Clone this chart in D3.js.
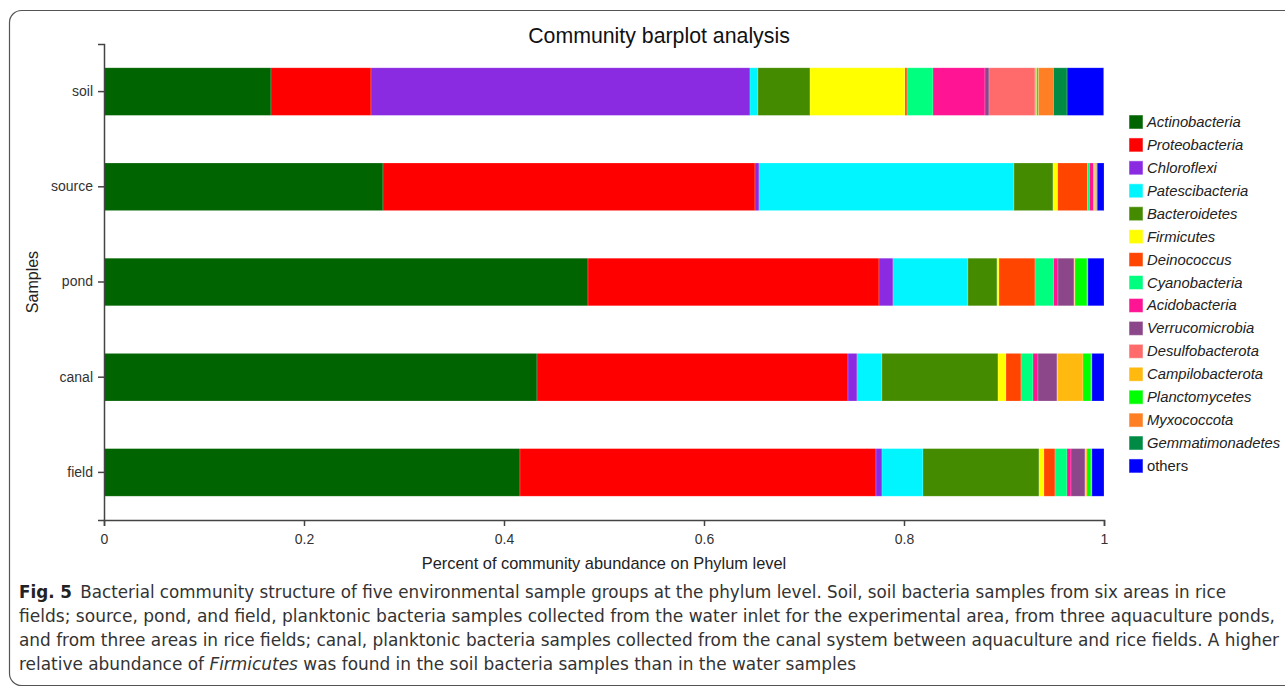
<!DOCTYPE html>
<html lang="en">
<head>
  <meta charset="UTF-8">
  <title>Community barplot analysis</title>
  <style>
    body { margin: 0; background: #fff; }
    svg { display: block; font-family: Arial, "Liberation Sans", sans-serif; }
    .axis path, .axis line { stroke: #444; stroke-width: 1.5; }
    .axis text { font-size: 14px; fill: #333; }
    .legend text { font-size: 14.8px; font-style: italic; fill: #222; }
    .caption { font-family: "Liberation Sans Narrow", "DejaVu Sans Condensed", sans-serif; font-size: 18px; fill: #333; }
  </style>
  <script src="https://d3js.org/d3.v7.min.js"></script>
</head>
<body>
<svg id="chart" width="1285" height="689"></svg>
<script>
  const samples = ["soil", "source", "pond", "canal", "field"];
  const phyla = ["Actinobacteria", "Proteobacteria", "Chloroflexi", "Patescibacteria", "Bacteroidetes",
    "Firmicutes", "Deinococcus", "Cyanobacteria", "Acidobacteria", "Verrucomicrobia",
    "Desulfobacterota", "Campilobacterota", "Planctomycetes", "Myxococcota", "Gemmatimonadetes", "others"];
  const colors = ["#006400", "#ff0000", "#8a2be2", "#00f5ff", "#458b00", "#ffff00", "#ff4500", "#00ff7f",
    "#ff1493", "#8b4789", "#ff6a6a", "#ffb90f", "#00ff00", "#ff7f24", "#008b45", "#0000ff"];

  // relative abundance per sample, same order as phyla
  const soil   = [0.167, 0.100, 0.379, 0.008, 0.052, 0.095, 0.002, 0.026, 0.052, 0.004, 0.046, 0.0017, 0.0017, 0.015, 0.0137, 0.0366];
  const source = [0.279, 0.372, 0.004, 0.255, 0.039, 0.0047, 0.030, 0.0017, 0.004, 0.0005, 0.0005, 0.0008, 0.0007, 0.0008, 0.0005, 0.0068];
  const pond   = [0.484, 0.291, 0.014, 0.075, 0.029, 0.002, 0.036, 0.0185, 0.0045, 0.016, 0.0005, 0.0005, 0.012, 0.0005, 0.0005, 0.016];
  const canal  = [0.433, 0.311, 0.009, 0.025, 0.116, 0.008, 0.015, 0.012, 0.005, 0.019, 0.0005, 0.0255, 0.008, 0.0005, 0.0005, 0.012];
  const field  = [0.416, 0.356, 0.006, 0.041, 0.116, 0.005, 0.011, 0.012, 0.004, 0.014, 0.0005, 0.0015, 0.004, 0.0005, 0.0005, 0.012];
  const xTicks = [0, 0.2, 0.4, 0.6, 0.8, 1];

  const values = { soil, source, pond, canal, field };
  const rows = samples.map(s => {
    const r = { sample: s };
    phyla.forEach((p, i) => r[p] = values[s][i]);
    return r;
  });

  const svg = d3.select("#chart");

  // outer frame
  svg.append("rect")
    .attr("x", 9.5).attr("y", 10.5).attr("width", 1300).attr("height", 675)
    .attr("rx", 12).attr("fill", "none").attr("stroke", "#555").attr("stroke-width", 1.2);

  const x = d3.scaleLinear().domain([0, 1]).range([104, 1104]);
  const y = d3.scaleBand().domain(samples).range([44, 520]).paddingInner(0.5).paddingOuter(0.25);
  const color = d3.scaleOrdinal().domain(phyla).range(colors);

  const stacked = d3.stack().keys(phyla)(rows);

  svg.append("g")
    .selectAll("g")
    .data(stacked)
    .join("g")
    .attr("fill", d => color(d.key))
    .selectAll("rect")
    .data(d => d)
    .join("rect")
    .attr("x", d => x(d[0]))
    .attr("width", d => x(d[1]) - x(d[0]))
    .attr("y", d => y(d.data.sample))
    .attr("height", y.bandwidth())
    .attr("stroke", "rgba(255,255,255,0.35)")
    .attr("stroke-width", 0.6);

  svg.append("g")
    .attr("class", "axis")
    .attr("transform", "translate(0,520)")
    .call(d3.axisBottom(x).tickValues(xTicks).tickFormat(d3.format("~g")).tickSize(6).tickPadding(8));

  svg.append("g")
    .attr("class", "axis")
    .attr("transform", "translate(104,0)")
    .call(d3.axisLeft(y).tickSize(6).tickPadding(5));

  svg.append("text")
    .attr("x", 659).attr("y", 43)
    .attr("text-anchor", "middle")
    .attr("font-size", 21.3).attr("fill", "#111")
    .text("Community barplot analysis");

  svg.append("text")
    .attr("x", 604).attr("y", 569)
    .attr("text-anchor", "middle")
    .attr("font-size", 16.4).attr("fill", "#222")
    .text("Percent of community abundance on Phylum level");

  svg.append("text")
    .attr("transform", "translate(38,282) rotate(-90)")
    .attr("text-anchor", "middle")
    .attr("font-size", 16).attr("fill", "#222")
    .text("Samples");

  // legend
  const legend = svg.append("g").attr("class", "legend")
    .selectAll("g")
    .data(phyla)
    .join("g")
    .attr("transform", (d, i) => `translate(1129,${115 + i * 22.93})`);
  legend.append("rect")
    .attr("width", 14).attr("height", 14)
    .attr("fill", d => color(d))
    .attr("stroke", "rgba(255,255,255,0.5)");
  legend.append("text")
    .attr("x", 18).attr("y", 12)
    .style("font-style", d => d === "others" ? "normal" : "italic")
    .text(d => d);

  // caption
  const cap = svg.append("g").attr("class", "caption");
  const l1 = cap.append("text").attr("x", 19).attr("y", 598)
    .attr("textLength", 1207).attr("lengthAdjust", "spacingAndGlyphs");
  l1.append("tspan").attr("font-weight", "bold").attr("fill", "#222").text("Fig. 5");
  l1.append("tspan").text("\u2002Bacterial community structure of five environmental sample groups at the phylum level. Soil, soil bacteria samples from six areas in rice");
  cap.append("text").attr("x", 19).attr("y", 622)
    .attr("textLength", 1256).attr("lengthAdjust", "spacingAndGlyphs")
    .text("fields; source, pond, and field, planktonic bacteria samples collected from the water inlet for the experimental area, from three aquaculture ponds,");
  cap.append("text").attr("x", 19).attr("y", 646)
    .attr("textLength", 1260).attr("lengthAdjust", "spacingAndGlyphs")
    .text("and from three areas in rice fields; canal, planktonic bacteria samples collected from the canal system between aquaculture and rice fields. A higher");
  const l4 = cap.append("text").attr("x", 19).attr("y", 670)
    .attr("textLength", 837).attr("lengthAdjust", "spacingAndGlyphs");
  l4.append("tspan").text("relative abundance of ");
  l4.append("tspan").attr("font-style", "italic").text("Firmicutes");
  l4.append("tspan").text(" was found in the soil bacteria samples than in the water samples");
</script>
</body>
</html>
